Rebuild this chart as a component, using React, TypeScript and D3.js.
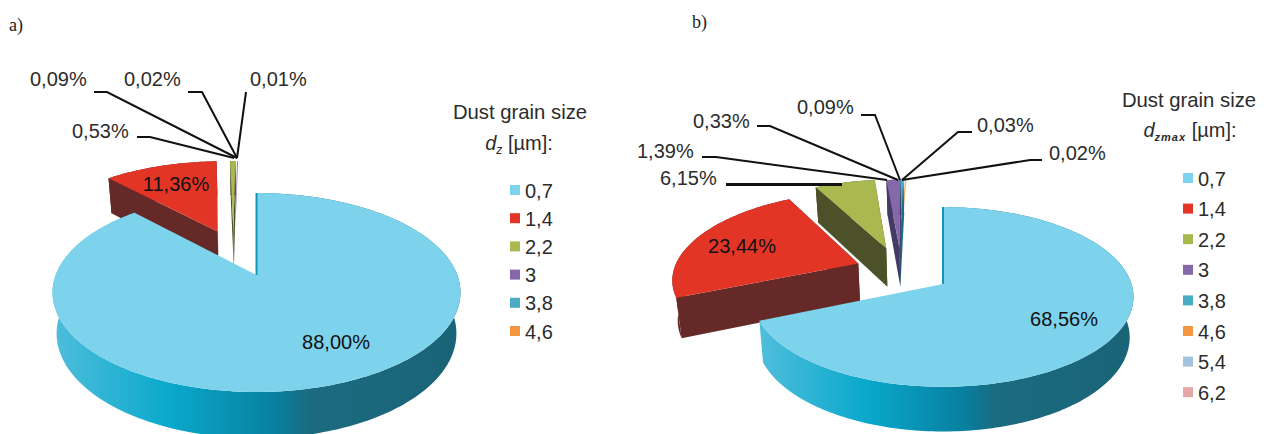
import * as d3 from "d3";

// grain sizes and shares
const sizesA = ["0,7", "1,4", "2,2", "3", "3,8", "4,6"];
const valuesA = [88.0, 11.36, 0.53, 0.09, 0.02, 0.01];
const sizesB = ["0,7", "1,4", "2,2", "3", "3,8", "4,6", "5,4", "6,2"];
const valuesB = [68.56, 23.44, 6.15, 1.39, 0.33, 0.09, 0.03, 0.02];

const topColors = ["#7dd2ec", "#e33526", "#a9b84f", "#8568a8", "#4aacc4", "#f39642", "#a4c1de", "#e5a6a5"];
const sideColors = ["url(#rim)", "#652a28", "#4c5129", "#453a66", "#1a6e85", "#b5682a", "#6f8aa5", "#a87272"];

const font = "'Liberation Sans', Arial, sans-serif";
const ink = "#2c2c2c";
const pct = (v: number) => d3.format(".2f")(v).replace(".", ",") + "%";

// camera of each pie and how far each slice is pulled out of it
const pieA = {
  cx: 256.5, cy: 275, rx: 200.8, ry: 96.4, k: 0.176, h: 40,
  explode: [[0, 0], [-0.21, -0.49], [-0.125, -0.49], [-0.115, -0.49], [-0.115, -0.49], [-0.105, -0.49]],
};
const pieB = {
  cx: 943, cy: 284, rx: 188.5, ry: 88, k: 0.144, h: 40,
  explode: [[0, 0], [-0.465, -0.242], [-0.32, -0.43], [-0.245, -0.43], [-0.245, -0.43], [-0.235, -0.43], [-0.235, -0.43], [-0.235, -0.43]],
};
type Pie = typeof pieA;

const line = d3.line();

function Pie3D({ pie, values }: { pie: Pie; values: number[] }) {
  const arcs = d3.pie<number>().sort(null).value((d) => d)(values);

  // disk coordinates to screen, z = 1 is the underside
  const project = (u: number, v: number, z: number): [number, number] => {
    const s = 1 / (1 - pie.k * v);
    const shrink = 1 - 0.02 * z;
    return [pie.cx + pie.rx * u * s * shrink, pie.cy + (pie.ry * v * shrink + pie.h * z) * s];
  };

  const drawn = arcs.map((arc, i) => {
    const [du, dv] = pie.explode[i];
    const steps = Math.max(2, Math.ceil((arc.endAngle - arc.startAngle) / 0.02));
    const rim = d3.range(steps + 1).map((n) => {
      const a = arc.startAngle + ((arc.endAngle - arc.startAngle) * n) / steps;
      return [Math.sin(a) + du, -Math.cos(a) + dv];
    });
    const at = (z: number) => rim.map(([u, v]) => project(u, v, z));
    const top = at(0);
    const bottom = at(1);
    const apexTop = project(du, dv, 0);
    const apexBottom = project(du, dv, 1);
    return { i, rim: [...top, ...[...bottom].reverse()], top: [apexTop, ...top], bottom, topRim: top, apexTop, apexBottom };
  });

  return (
    <g>
      {[...drawn].reverse().map((d) => {
        // the tiniest slices show no side at this size
        const walled = values[d.i] >= 0.1;
        return (
          <g key={d.i}>
            {walled && <path d={line(d.rim) + "Z"} fill={sideColors[d.i]} />}
            {walled && d.i > 0 && (
              <>
                <path d={line([d.apexTop, d.topRim[0], d.bottom[0], d.apexBottom]) + "Z"} fill={sideColors[d.i]} />
                <path
                  d={line([d.apexTop, d.topRim[d.topRim.length - 1], d.bottom[d.bottom.length - 1], d.apexBottom]) + "Z"}
                  fill={sideColors[d.i]}
                />
              </>
            )}
            <path d={line(d.top) + "Z"} fill={topColors[d.i]} />
            {d.i === 0 && <path d={line([d.apexTop, d.topRim[0]]) ?? ""} stroke="#1296b8" strokeWidth={2} fill="none" />}
          </g>
        );
      })}
    </g>
  );
}

function Legend({ sizes, x, y, step }: { sizes: string[]; x: number; y: number; step: number }) {
  return (
    <g>
      {sizes.map((s, i) => (
        <g key={s} transform={`translate(${x},${y + i * step})`}>
          <rect x={0} y={-5} width={10} height={10} fill={topColors[i]} />
          <text x={15} y={7.5} fontSize={20} fill={ink}>{s}</text>
        </g>
      ))}
    </g>
  );
}

function Callouts({ values, spots }: { values: number[]; spots: { i: number; x: number; y: number; path: [number, number][]; w?: number }[] }) {
  return (
    <g>
      {spots.map((c) => (
        <g key={c.i}>
          <path d={line(c.path) ?? ""} fill="none" stroke="#111" strokeWidth={c.w ?? 2} />
          <text x={c.x} y={c.y} fontSize={20} fill={ink}>{pct(values[c.i])}</text>
        </g>
      ))}
    </g>
  );
}

const calloutsA = [
  { i: 2, x: 72, y: 138, path: [[137, 137], [150, 137], [234, 158]] as [number, number][] },
  { i: 3, x: 30, y: 86, path: [[94, 92], [107, 92], [237, 158]] as [number, number][] },
  { i: 4, x: 124, y: 86, path: [[188, 92], [202, 92], [237, 158]] as [number, number][] },
  { i: 5, x: 250, y: 86, path: [[246, 92], [237, 158]] as [number, number][] },
];
const calloutsB = [
  { i: 2, x: 660, y: 185, w: 3, path: [[726, 184.5], [842, 184.5]] as [number, number][] },
  { i: 3, x: 637, y: 158, path: [[702, 157], [716, 157], [887, 180]] as [number, number][] },
  { i: 4, x: 693, y: 128, path: [[757, 126], [770, 126], [898, 180]] as [number, number][] },
  { i: 5, x: 797, y: 114, path: [[861, 115], [875, 115], [900, 180]] as [number, number][] },
  { i: 6, x: 977, y: 132, path: [[972, 132], [958, 132], [902, 180]] as [number, number][] },
  { i: 7, x: 1049, y: 160, path: [[1042, 160], [1030, 160], [902, 180]] as [number, number][] },
];

export default function App() {
  return (
    <svg
      width={1264}
      height={434}
      style={{ position: "absolute", left: 0, top: 0, background: "#fff" }}
      fontFamily={font}
    >
      <defs>
        <linearGradient id="rim" x1="0" x2="1" y1="0" y2="0">
          <stop offset="0" stopColor="#4fbedb" />
          <stop offset="0.29" stopColor="#09a8cc" />
          <stop offset="0.55" stopColor="#087f9e" />
          <stop offset="0.63" stopColor="#1b6b80" />
          <stop offset="1" stopColor="#1a6377" />
        </linearGradient>
      </defs>

      <text x={9} y={31} fontFamily="'Liberation Serif', serif" fontSize={18} fill="#222">a)</text>
      <text x={692} y={28} fontFamily="'Liberation Serif', serif" fontSize={18} fill="#222">b)</text>

      <Pie3D pie={pieA} values={valuesA} />
      <Pie3D pie={pieB} values={valuesB} />

      <text x={336} y={349} textAnchor="middle" fontSize={20} fill="#111">{pct(valuesA[0])}</text>
      <text x={176} y={191} textAnchor="middle" fontSize={20} fill="#111">{pct(valuesA[1])}</text>
      <text x={1064} y={326} textAnchor="middle" fontSize={20} fill="#111">{pct(valuesB[0])}</text>
      <text x={742} y={253} textAnchor="middle" fontSize={20} fill="#111">{pct(valuesB[1])}</text>

      <Callouts values={valuesA} spots={calloutsA} />
      <Callouts values={valuesB} spots={calloutsB} />

      <text x={520} y={119} textAnchor="middle" fontSize={20.3} fill={ink}>Dust grain size</text>
      <text x={519} y={150} textAnchor="middle" fontSize={20} fill={ink}>
        <tspan fontStyle="italic">d</tspan>
        <tspan fontStyle="italic" fontSize={12} dy={4}>z</tspan>
        <tspan dy={-4}> [µm]:</tspan>
      </text>
      <Legend sizes={sizesA} x={510} y={190} step={28.2} />

      <text x={1189} y={107} textAnchor="middle" fontSize={20.3} fill={ink}>Dust grain size</text>
      <text x={1190} y={137} textAnchor="middle" fontSize={20} fill={ink}>
        <tspan fontStyle="italic">d</tspan>
        <tspan fontStyle="italic" fontWeight="bold" fontSize={11} dy={4} letterSpacing={1}>zmax</tspan>
        <tspan dy={-4}> [µm]:</tspan>
      </text>
      <Legend sizes={sizesB} x={1183} y={178} step={30.6} />
    </svg>
  );
}
